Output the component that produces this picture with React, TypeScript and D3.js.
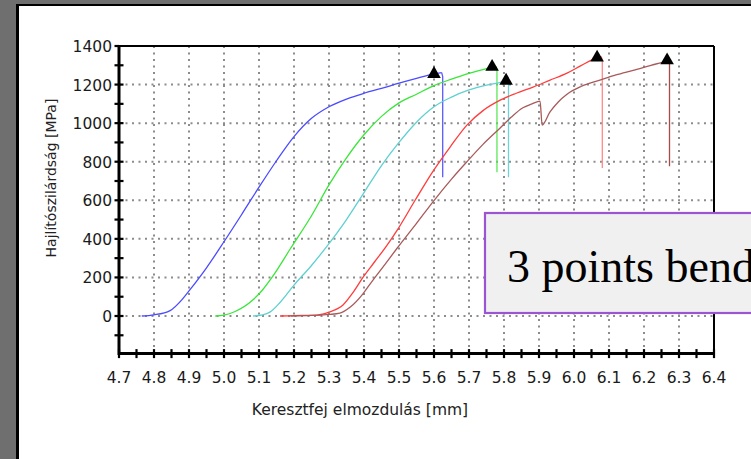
import React from "react";
import * as d3 from "d3";

// Crosshead displacement (mm) vs. flexural strength (MPa) for five specimens
const blueX = [4.765, 4.8, 4.846, 4.88, 4.9, 4.95, 5.0, 5.05, 5.1, 5.15, 5.2, 5.25, 5.3, 5.35, 5.4, 5.45, 5.5, 5.55, 5.6, 5.622];
const blueY = [0, 6, 28, 85, 130, 250, 385, 525, 668, 805, 930, 1025, 1085, 1125, 1155, 1180, 1207, 1232, 1255, 1262];

const greenX = [4.975, 5.0, 5.03, 5.083, 5.11, 5.137, 5.19, 5.25, 5.3, 5.35, 5.4, 5.45, 5.5, 5.55, 5.6, 5.65, 5.7, 5.75, 5.766, 5.777];
const greenY = [0, 5, 22, 84, 135, 200, 350, 520, 680, 820, 940, 1035, 1105, 1150, 1195, 1228, 1258, 1283, 1292, 1296];

const cyanX = [5.083, 5.11, 5.131, 5.16, 5.2, 5.25, 5.29, 5.35, 5.4, 5.45, 5.5, 5.55, 5.6, 5.65, 5.7, 5.75, 5.79, 5.806, 5.81];
const cyanY = [0, 6, 20, 70, 160, 262, 352, 500, 640, 780, 900, 1005, 1085, 1135, 1172, 1197, 1212, 1220, 1222];

const redX = [5.16, 5.2, 5.266, 5.3, 5.34, 5.37, 5.397, 5.43, 5.465, 5.5, 5.546, 5.597, 5.646, 5.694, 5.74, 5.789, 5.835, 5.883, 5.93, 5.98, 6.02, 6.066, 6.078];
const redY = [0, 2, 5, 20, 57, 125, 200, 280, 365, 460, 600, 750, 876, 990, 1065, 1119, 1155, 1187, 1222, 1259, 1298, 1340, 1345];

const brownX = [5.19, 5.25, 5.3, 5.331, 5.36, 5.397, 5.423, 5.46, 5.494, 5.55, 5.597, 5.65, 5.694, 5.74, 5.789, 5.82, 5.854, 5.88, 5.903, 5.909, 5.931, 5.955, 5.98, 6.02, 6.074, 6.12, 6.169, 6.22, 6.266, 6.27];
const brownY = [0, 3, 8, 15, 45, 115, 180, 268, 350, 480, 592, 710, 800, 890, 975, 1030, 1080, 1100, 1114, 990, 1057, 1110, 1150, 1190, 1223, 1250, 1274, 1300, 1326, 1330];

// Fracture: value the load fell to after the peak
const dropTo = [720, 746, 720, 767, 777];
// Peak (maximum) markers
const peakX = [5.6, 5.766, 5.806, 6.066, 6.266];
const peakY = [1255, 1292, 1220, 1340, 1326];

const lineColors = ["#4b4bff", "#3ae63a", "#5fd0d0", "#ff3c3c", "#a85a5a"];
const dropColors = ["#5a5aff", "#5ce85c", "#6cd4d4", "#ff8a8a", "#a84a4a"];

const xTicks = [4.7, 4.8, 4.9, 5.0, 5.1, 5.2, 5.3, 5.4, 5.5, 5.6, 5.7, 5.8, 5.9, 6.0, 6.1, 6.2, 6.3, 6.4];
const yTicks = [0, 200, 400, 600, 800, 1000, 1200, 1400];

const xLabel = "Keresztfej elmozdulás [mm]";
const yLabel = "Hajlítószilárdság [MPa]";
const noteText = "3 points bending";

const FONT = "'DejaVu Sans', Verdana, sans-serif";

export default function App() {
  const x = d3.scaleLinear().domain([4.7, 6.4]).range([119, 714]);
  const y = d3.scaleLinear().domain([0, 1400]).range([316, 46]);
  const yBottom = y(-195);
  const yTop = y(1400);
  const xLeft = x(4.7);
  const xRight = x(6.4);

  const series = [
    [blueX, blueY],
    [greenX, greenY],
    [cyanX, cyanY],
    [redX, redY],
    [brownX, brownY],
  ].map(([xs, ys]) => xs.map((v, i) => [v, ys[i]] as [number, number]));

  const line = d3
    .line<[number, number]>()
    .x((d) => x(d[0]))
    .y((d) => y(d[1]))
    .curve(d3.curveMonotoneX);

  const minorX = d3.range(0, 35).map((i) => 4.7 + i * 0.05);
  const minorY = d3.range(-1, 14).map((i) => i * 100);

  const tri = d3.symbol(d3.symbolTriangle, 80)() as string;

  return (
    <svg
      width={751}
      height={459}
      style={{ position: "absolute", left: 0, top: 0, display: "block" }}
    >
      {/* window frame */}
      <rect x={0} y={0} width={751} height={459} fill="#6f6f6f" />
      <rect x={16} y={4} width={740} height={460} fill="#000" />
      <rect x={19} y={6} width={740} height={460} fill="#fff" />

      {/* dotted grid */}
      <g stroke="#8c8c8c" strokeWidth={2} strokeDasharray="2,4.5">
        {xTicks.slice(1, -1).map((t) => (
          <line key={"gx" + t} x1={x(t)} x2={x(t)} y1={yTop} y2={yBottom} />
        ))}
        {yTicks.slice(0, -1).map((t) => (
          <line key={"gy" + t} x1={xLeft} x2={xRight} y1={y(t)} y2={y(t)} />
        ))}
      </g>

      {/* curves */}
      {series.map((pts, i) => {
        const last = pts[pts.length - 1];
        return (
          <g key={"s" + i} fill="none" strokeWidth={1.3}>
            <path d={line(pts) as string} stroke={lineColors[i]} />
            <path
              d={`M${x(last[0])},${y(last[1])}L${x(last[0]) + 1},${y(last[1]) + 4}L${x(last[0]) + 1},${y(dropTo[i])}`}
              stroke={dropColors[i]}
              strokeLinejoin="round"
            />
          </g>
        );
      })}

      {/* peak markers */}
      {peakX.map((px, i) => (
        <path key={"p" + i} d={tri} transform={`translate(${x(px)},${y(peakY[i])})`} fill="#000" />
      ))}

      {/* plot border */}
      <line x1={xLeft} x2={xRight} y1={yTop} y2={yTop} stroke="#000" strokeWidth={2} />
      <line x1={xRight} x2={xRight} y1={yTop} y2={yBottom} stroke="#000" strokeWidth={2} />
      <line x1={xLeft} x2={xLeft} y1={yTop - 1} y2={yBottom + 1.5} stroke="#000" strokeWidth={3} />
      <line x1={xLeft} x2={xRight + 1} y1={yBottom} y2={yBottom} stroke="#000" strokeWidth={3} />

      {/* tick marks */}
      <g stroke="#000" strokeWidth={2.2}>
        {minorX.map((t, i) => (
          <line key={"tx" + i} x1={x(t)} x2={x(t)} y1={yBottom - 4.5} y2={yBottom + 4.5} />
        ))}
        {minorY.map((t, i) => (
          <line key={"ty" + i} x1={xLeft - 4.5} x2={xLeft + 4.5} y1={y(t)} y2={y(t)} />
        ))}
        <line x1={xLeft - 4.5} x2={xLeft} y1={yTop} y2={yTop} />
      </g>

      {/* tick labels */}
      <g fontFamily={FONT} fontSize={15.5} fill="#1a1a1a">
        {xTicks.map((t) => (
          <text key={"lx" + t} x={x(t)} y={yBottom + 29.5} textAnchor="middle">
            {t.toFixed(1)}
          </text>
        ))}
        {yTicks.map((t) => (
          <text key={"ly" + t} x={xLeft - 7} y={y(t) + 6} textAnchor="end">
            {t}
          </text>
        ))}
      </g>

      {/* axis titles */}
      <text x={360} y={415} textAnchor="middle" fontFamily={FONT} fontSize={15.5} fill="#222">
        {xLabel}
      </text>
      <text
        transform="translate(56,178) rotate(-90)"
        textAnchor="middle"
        fontFamily={FONT}
        fontSize={14}
        fill="#222"
      >
        {yLabel}
      </text>

      {/* note box */}
      <rect x={485} y={213} width={300} height={100} fill="#f0f0f0" stroke="#9b55d2" strokeWidth={2.2} />
      <text x={507} y={282} fontFamily="'Liberation Serif', 'Times New Roman', serif" fontSize={46} fill="#000">
        {noteText}
      </text>
    </svg>
  );
}
